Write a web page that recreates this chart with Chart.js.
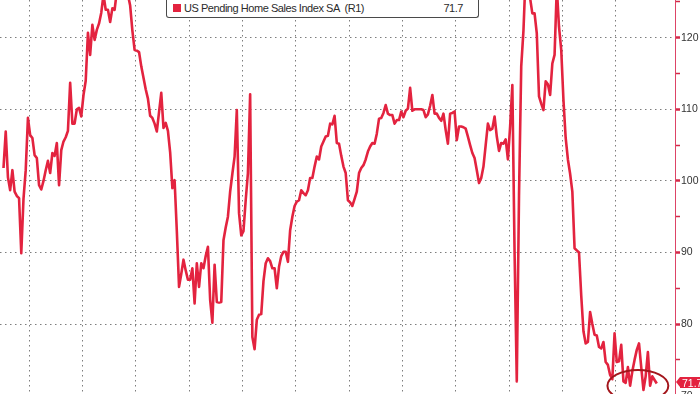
<!DOCTYPE html>
<html>
<head>
<meta charset="utf-8">
<script src="https://cdn.jsdelivr.net/npm/chart.js@4.4.1/dist/chart.umd.min.js"></script>
<style>
  html, body { margin: 0; padding: 0; background: #fff; }
  #wrap { position: relative; width: 700px; height: 394px; overflow: hidden; background: #fff; }
  #chart { position: absolute; left: 0; top: 0; }
  #legend {
    position: absolute; left: 166px; top: -1px; width: 311px; height: 18px;
    border: 1px solid #4a4a4a; border-top: none; border-radius: 0 0 3px 3px;
    background: #fff; color: #2b2b2b;
    font: 11px "Liberation Sans", Arial, sans-serif; letter-spacing: -0.45px;
  }
  #legend .sw { position: absolute; left: 6px; top: 5px; width: 8px; height: 8px; background: #e3233f; }
  #legend .name { position: absolute; left: 17px; top: 3px; white-space: pre; }
  #legend .val { position: absolute; right: 15px; top: 3px; }
  #lastTag {
    position: absolute; left: 680px; top: 377px; height: 11px; line-height: 11px;
    padding: 0 4px 0 2px; background: #e3233f; color: #fff; border-radius: 0 2px 2px 0;
    font: 10.5px "Liberation Sans", Arial, sans-serif;
  }
  #lastTag::before {
    content: ''; position: absolute; left: -4px; top: 0;
    border-top: 5.5px solid transparent; border-bottom: 5.5px solid transparent;
    border-right: 4px solid #e3233f;
  }
</style>
</head>
<body>
<div id="wrap">
  <canvas id="chart" width="700" height="402"></canvas>
  <div id="legend"><span class="sw"></span><span class="name"></span><span class="val"></span></div>
  <div id="lastTag"></div>
</div>
<script>
'use strict';

// monthly series, Jan 2001 .. Jul 2025
const seriesName = 'US Pending Home Sales Index SA  (R1)';
const startYear = 2001;
const pendingIndex = [
  101.8, 106.9, 100.5, 98.7, 101.5, 98.5, 97.9, 97.6, 89.9, 97.5, 101.5, 108.8,   // 2001
  106.4, 106.0, 103.6, 103.2, 99.4, 98.8, 100.0, 101.5, 102.8, 101.1, 103.9, 103.5, // 2002
  105.3, 99.4, 104.3, 105.5, 106.1, 107.0, 113.7, 108.0, 108.0, 110.0, 110.2, 109.0, // 2003
  112.0, 114.0, 120.7, 117.6, 121.8, 119.7, 121.1, 122.0, 123.5, 126.0, 123.9, 123.9, // 2004
  122.2, 124.1, 123.9, 126.5, 127.5, 128.0, 127.0, 128.0, 126.0, 124.5, 121.0, 118.3, // 2005
  118.2, 118.0, 116.0, 114.4, 112.8, 111.5, 109.1, 108.8, 108.0, 106.9, 109.6, 112.3, // 2006
  107.4, 108.1, 107.0, 104.0, 99.0, 100.1, 93.0, 85.2, 87.0, 89.0, 87.5, 86.2,       // 2007
  86.2, 87.8, 82.9, 88.5, 85.2, 88.5, 87.8, 89.5, 90.8, 83.4, 80.2, 88.3,           // 2008
  83.1, 83.0, 83.1, 91.7, 93.5, 95.0, 98.5, 101.0, 103.4, 109.9, 95.5, 92.4,        // 2009
  93.0, 97.3, 101.1, 112.1, 78.2, 76.5, 80.6, 81.3, 81.4, 86.0, 88.5, 89.2,         // 2010
  88.8, 87.8, 87.8, 85.0, 88.0, 89.5, 90.1, 90.1, 88.7, 93.1, 95.0, 96.5,           // 2011
  97.1, 97.3, 98.7, 98.3, 98.0, 98.7, 100.4, 100.4, 102.0, 103.4, 103.0, 104.8,     // 2012
  105.5, 106.2, 106.3, 108.0, 107.9, 109.1, 105.3, 105.2, 103.5, 102.0, 101.1, 97.3, // 2013
  97.0, 96.5, 97.5, 98.5, 101.1, 101.8, 102.2, 103.0, 104.1, 104.8, 105.3, 105.2,   // 2014
  106.6, 108.7, 108.8, 109.5, 110.6, 109.4, 109.2, 109.2, 108.0, 108.5, 108.5, 109.7, // 2015
  108.9, 109.8, 110.1, 113.0, 109.8, 110.0, 110.0, 110.0, 110.0, 109.9, 108.9, 109.3, // 2016
  110.5, 112.0, 109.4, 109.4, 108.8, 108.4, 109.4, 107.1, 105.2, 109.4, 109.5, 109.7, // 2017
  105.7, 107.6, 107.6, 107.5, 107.3, 106.2, 105.0, 103.9, 103.2, 101.5, 99.7, 100.4, // 2018
  102.0, 105.0, 108.0, 107.1, 107.3, 109.0, 106.2, 104.2, 105.3, 105.2, 105.8, 103.0, // 2019
  107.6, 113.4, 90.0, 72.0, 98.0, 116.0, 121.0, 129.0, 128.0, 125.5, 123.4, 123.4,  // 2020
  120.6, 111.8, 110.8, 109.9, 113.9, 113.5, 112.0, 116.4, 117.6, 127.0, 121.5, 118.3, // 2021
  111.3, 106.0, 103.0, 101.0, 98.5, 90.6, 90.3, 90.0, 84.0, 79.0, 77.3, 77.5,       // 2022
  81.7, 80.0, 78.5, 78.4, 76.8, 76.6, 77.5, 74.7, 74.3, 72.9, 72.3, 78.7,           // 2023
  74.7, 74.8, 77.1, 72.0, 71.8, 74.0, 71.4, 73.4, 75.0, 76.4, 77.3, 74.0,           // 2024
  70.8, 72.7, 76.1, 71.4, 72.7, 72.2, 71.7                                          // 2025
];
const lastValue = '71.7';

// axis stuff
const yTickValues = [70, 75, 80, 85, 90, 95, 100, 105, 110, 115, 120, 125];
const gridYears = [2002, 2004, 2006, 2008, 2010, 2012, 2014, 2016, 2018, 2020, 2022, 2024];
const yMin = 69.12, yMax = 125.27;
const xMin = -1.575, xMax = 302.2;

// red ring drawn round the latest readings (month index, value, radii)
const ringCenter = [285.5, 71.4];
const ringRadius = [13.7, 2.2];

const lineRed = '#e3233f';
const gridGrey = '#7d7d7d';

document.querySelector('#legend .name').textContent = seriesName;
document.querySelector('#legend .val').textContent = lastValue;
document.getElementById('lastTag').textContent = lastValue;

function monthPos(year) {
  // gridline sits between Dec and Jan points
  return (year - startYear) * 12 - 0.5;
}

const ringPlugin = {
  id: 'ring',
  afterDatasetsDraw(chart) {
    const x = chart.scales.x, y = chart.scales.y;
    const cx = x.getPixelForValue(ringCenter[0]);
    const cy = y.getPixelForValue(ringCenter[1]);
    const rx = x.getPixelForValue(ringCenter[0] + ringRadius[0]) - cx;
    const ry = y.getPixelForValue(ringCenter[1]) - y.getPixelForValue(ringCenter[1] + ringRadius[1]);
    const ctx = chart.ctx;
    ctx.save();
    ctx.strokeStyle = '#a3161c';
    ctx.lineWidth = 2;
    ctx.beginPath();
    ctx.ellipse(cx, cy, rx, ry, 0, 0, Math.PI * 2);
    ctx.stroke();
    ctx.restore();
  }
};

const points = pendingIndex.map((v, i) => ({x: i, y: v}));

const config = {
  type: 'line',
  data: {
    datasets: [{
      label: seriesName,
      data: points,
      borderColor: lineRed,
      borderWidth: 2.6,
      borderJoinStyle: 'round',
      pointRadius: 0,
      tension: 0,
      fill: false
    }]
  },
  options: {
    responsive: false,
    animation: false,
    devicePixelRatio: 1,
    layout: { padding: 0 },
    plugins: {
      legend: { display: false },
      tooltip: { enabled: false }
    },
    scales: {
      x: {
        type: 'linear',
        min: xMin,
        max: xMax,
        afterBuildTicks: (scale) => {
          scale.ticks = gridYears.map(yr => ({value: monthPos(yr)}));
        },
        afterFit: (scale) => {
          scale.height = 0;
          scale.paddingLeft = 0;
          scale.paddingRight = 0;
        },
        ticks: { display: false },
        grid: { color: gridGrey, lineWidth: 1, drawTicks: false },
        border: { display: false, dash: [1.5, 3.5] }
      },
      y: {
        position: 'right',
        min: yMin,
        max: yMax,
        afterBuildTicks: (scale) => {
          scale.ticks = yTickValues.map(v => ({value: v}));
        },
        afterFit: (scale) => {
          scale.width = 25;
          scale.paddingTop = 0;
          scale.paddingBottom = 0;
        },
        ticks: {
          color: '#333',
          padding: 1,
          font: { family: '"Liberation Sans", Arial, sans-serif', size: 10.5 },
          callback: (v) => (v % 10 === 0 ? String(v) : '')
        },
        grid: {
          color: (ctx) => (ctx.tick && ctx.tick.value % 10 === 0 ? gridGrey : 'rgba(0,0,0,0)'),
          lineWidth: 1,
          tickLength: 5,
          tickColor: '#d22a48',
          tickWidth: (ctx) => (ctx.tick && ctx.tick.value % 10 === 0 ? 2.5 : 1.5)
        },
        border: { display: true, color: '#dd4466', width: 1, dash: [1.5, 3.5] }
      }
    }
  },
  plugins: [ringPlugin]
};

window.myLine = new Chart(document.getElementById('chart'), config);
</script>
</body>
</html>
